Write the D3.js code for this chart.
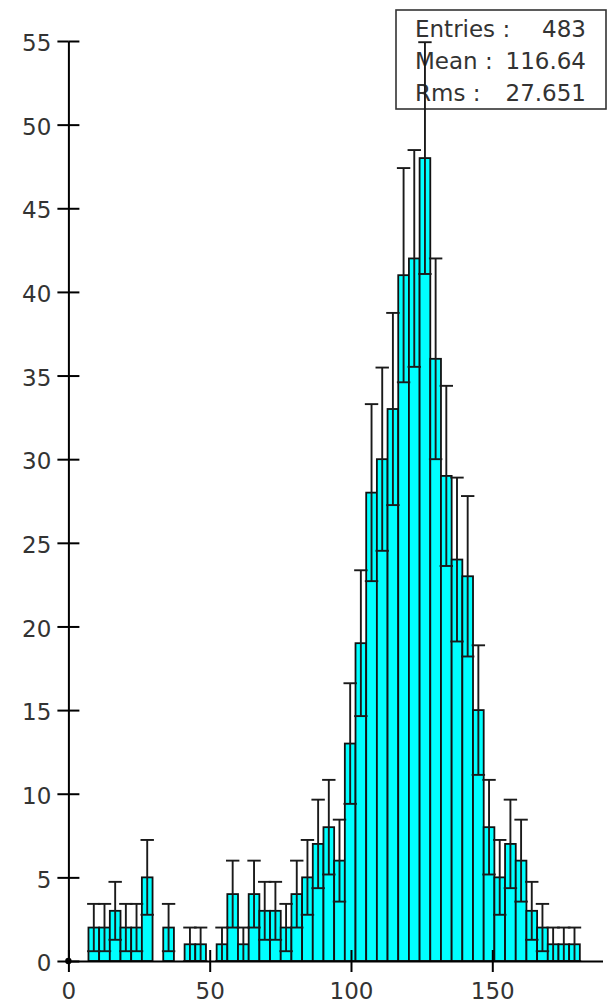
<!DOCTYPE html>
<html>
<head>
<meta charset="utf-8">
<script src="https://cdn.jsdelivr.net/npm/d3@7/dist/d3.min.js"></script>
<style>
  html, body { margin: 0; padding: 0; background: #fff; }
  svg { display: block; }
  text { font-family: "DejaVu Sans", sans-serif; }
</style>
</head>
<body>
<svg id="chart" width="608" height="1004"></svg>
<script>
// Histogram binning: first bin lower edge and common bin width (x units)
const binStart = 7.1;
const binWidth = 3.78;

// Entries per bin
const counts = [
  2, 2, 3, 2, 2, 5, 0, 2, 0, 1,
  1, 0, 1, 4, 1, 4, 3, 3, 2, 4,
  5, 7, 8, 6, 13, 19, 28, 30, 33, 41,
  42, 48, 36, 29, 24, 23, 15, 8, 5, 7,
  6, 3, 2, 1, 1, 1
];

// Axis ticks
const xTicks = [0, 50, 100, 150];
const yTicks = [0, 5, 10, 15, 20, 25, 30, 35, 40, 45, 50, 55];

// Statistics box
const statLabels = ["Entries :", "Mean :", "Rms :"];
const statValues = ["483", "116.64", "27.651"];

const svg = d3.select("#chart");

const x = d3.scaleLinear().domain([0, 189]).range([68.4, 602.5]);
const y = d3.scaleLinear().domain([0, 55]).range([961, 41]);

const bins = counts.map((c, i) => ({
  x0: binStart + i * binWidth,
  x1: binStart + (i + 1) * binWidth,
  n: c
}));

// Statistics box (drawn underneath so the tallest error bar crosses it)
const box = svg.append("g").attr("class", "stats");
box.append("rect")
  .attr("x", 396).attr("y", 10)
  .attr("width", 210).attr("height", 99)
  .attr("fill", "none")
  .attr("stroke", "#333")
  .attr("stroke-width", 1.6);
statLabels.forEach((lab, i) => {
  const by = 36.5 + i * 32;
  box.append("text")
    .attr("x", 415).attr("y", by)
    .attr("font-size", 23).attr("fill", "#333")
    .text(lab);
  box.append("text")
    .attr("x", 586).attr("y", by)
    .attr("font-size", 23).attr("fill", "#333")
    .attr("text-anchor", "end")
    .text(statValues[i]);
});

// Bars
svg.append("g").attr("class", "bars")
  .selectAll("rect")
  .data(bins.filter(d => d.n > 0))
  .join("rect")
  .attr("x", d => x(d.x0))
  .attr("y", d => y(d.n))
  .attr("width", d => x(d.x1) - x(d.x0))
  .attr("height", d => y(0) - y(d.n))
  .attr("fill", "#00ffff")
  .attr("stroke", "#111")
  .attr("stroke-width", 1.8);

// Poisson error bars (sqrt N)
const capHalf = 6.7;
const err = svg.append("g").attr("class", "errors")
  .attr("stroke", "#1a1a1a")
  .attr("stroke-width", 1.9);
const eb = err.selectAll("g")
  .data(bins.filter(d => d.n > 0))
  .join("g");
const cx = d => x((d.x0 + d.x1) / 2);
const lo = d => y(Math.max(0, d.n - Math.sqrt(d.n)));
const hi = d => y(d.n + Math.sqrt(d.n));
eb.append("line")
  .attr("x1", cx).attr("x2", cx)
  .attr("y1", lo).attr("y2", hi);
eb.append("line")
  .attr("x1", d => cx(d) - capHalf).attr("x2", d => cx(d) + capHalf)
  .attr("y1", hi).attr("y2", hi);
eb.append("line")
  .attr("x1", d => cx(d) - capHalf).attr("x2", d => cx(d) + capHalf)
  .attr("y1", lo).attr("y2", lo);

// Axes: labelled side plus a mirrored unlabelled side so ticks cross the line
function styleAxis(g) {
  g.selectAll("path.domain").attr("stroke", "#000").attr("stroke-width", 2);
  g.selectAll(".tick line").attr("stroke", "#000").attr("stroke-width", 2);
  g.selectAll(".tick text")
    .attr("font-family", "DejaVu Sans, sans-serif")
    .attr("font-size", 23)
    .attr("fill", "#333");
}

const xAxis = svg.append("g")
  .attr("transform", `translate(0,${y(0)})`)
  .call(d3.axisBottom(x).tickValues(xTicks).tickSizeInner(11).tickSizeOuter(0).tickPadding(11));
styleAxis(xAxis);
const xAxis2 = svg.append("g")
  .attr("transform", `translate(0,${y(0)})`)
  .call(d3.axisTop(x).tickValues(xTicks).tickSizeInner(11).tickSizeOuter(0).tickFormat(""));
styleAxis(xAxis2);
xAxis2.select("path.domain").remove();

const yAxis = svg.append("g")
  .attr("transform", `translate(${x(0)},0)`)
  .call(d3.axisLeft(y).tickValues(yTicks).tickSizeInner(11).tickSizeOuter(0).tickPadding(6));
styleAxis(yAxis);
yAxis.selectAll(".tick text").attr("dy", "0.42em");
const yAxis2 = svg.append("g")
  .attr("transform", `translate(${x(0)},0)`)
  .call(d3.axisRight(y).tickValues(yTicks).tickSizeInner(11).tickSizeOuter(0).tickFormat(""));
styleAxis(yAxis2);
yAxis2.select("path.domain").remove();

// Origin marker
svg.append("circle")
  .attr("cx", x(0)).attr("cy", y(0))
  .attr("r", 3.2)
  .attr("fill", "#000");
</script>
</body>
</html>
